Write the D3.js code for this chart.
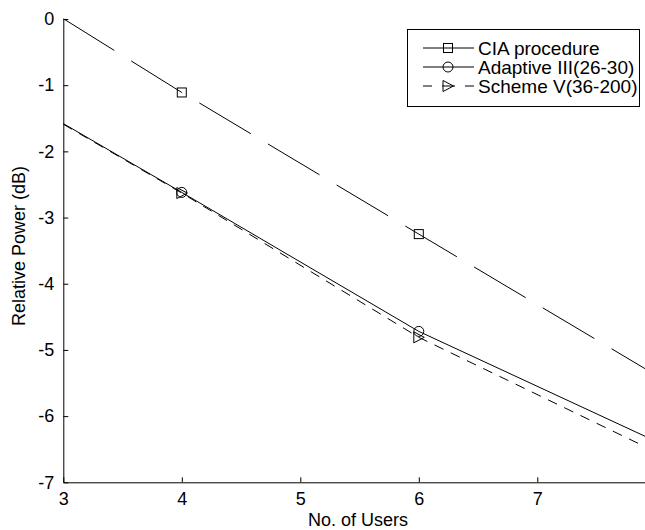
<!DOCTYPE html>
<html>
<head>
<meta charset="utf-8">
<script src="https://cdn.jsdelivr.net/npm/d3@7/dist/d3.min.js"></script>
<style>
  html, body { margin: 0; padding: 0; background: #fff; }
  svg { display: block; }
  text { font-family: "Liberation Sans", Arial, Helvetica, sans-serif; fill: #000; }
</style>
</head>
<body>
<svg id="chart" width="645" height="530"></svg>
<script>
// Number of users at which each curve was evaluated
const users = [2, 4, 6, 8];
// Relative transmit power (dB) for each scheme
const ciaPower      = [1.12, -1.11, -3.25, -5.38];
const adaptivePower = [-0.54, -2.62, -4.72, -6.38];
const schemePower   = [-0.55, -2.63, -4.81, -6.54];
// Axis ticks
const xTicks = [3, 4, 5, 6, 7];
const yTicks = [0, -1, -2, -3, -4, -5, -6, -7];

const legendLabels = ["CIA procedure", "Adaptive III(26-30)", "Scheme V(36-200)"];

const svg = d3.select("#chart");
const plotLeft = 63.3, plotTop = 19, plotBottom = 482.3;
const unitX = 118.5;

const x = d3.scaleLinear().domain([3, 8]).range([plotLeft, plotLeft + 5 * unitX]);
const y = d3.scaleLinear().domain([-7, 0]).range([plotBottom, plotTop]);

// plot region clip
svg.append("defs").append("clipPath").attr("id", "plotClip")
  .append("rect")
  .attr("x", x(3)).attr("y", y(0) - 10)
  .attr("width", x(8) - x(3) + 10).attr("height", y(-7) - y(0) + 10);

const series = [
  { name: legendLabels[0], values: ciaPower, dash: "60,20", marker: "square" },
  { name: legendLabels[1], values: adaptivePower, dash: null, marker: "circle" },
  { name: legendLabels[2], values: schemePower, dash: "10,8", marker: "triangle" }
];

const line = d3.line().x(d => x(d[0])).y(d => y(d[1]));

function drawMarker(g, type, cx, cy) {
  if (type === "square") {
    g.append("rect").attr("x", cx - 4.5).attr("y", cy - 4.5)
      .attr("width", 9).attr("height", 9)
      .attr("fill", "none").attr("stroke", "#000").attr("stroke-width", 1);
  } else if (type === "circle") {
    g.append("circle").attr("cx", cx).attr("cy", cy).attr("r", 5)
      .attr("fill", "none").attr("stroke", "#000").attr("stroke-width", 1);
  } else {
    g.append("path")
      .attr("d", `M${cx + 5.5},${cy} L${cx - 5},${cy - 5.5} L${cx - 5},${cy + 5.5} Z`)
      .attr("fill", "none").attr("stroke", "#000").attr("stroke-width", 1);
  }
}

const plot = svg.append("g").attr("clip-path", "url(#plotClip)");

series.forEach(s => {
  const pts = users.map((u, i) => [u, s.values[i]]);
  const path = plot.append("path")
    .datum(pts)
    .attr("d", line)
    .attr("fill", "none")
    .attr("stroke", "#000")
    .attr("stroke-width", 1);
  if (s.dash) {
    // start the dash pattern where the curve enters the axes at x = 3
    const x0 = x(pts[0][0]), y0 = y(pts[0][1]);
    const t = (3 - pts[0][0]) / (pts[1][0] - pts[0][0]);
    const v3 = pts[0][1] + t * (pts[1][1] - pts[0][1]);
    const hidden = Math.hypot(x(3) - x0, y(v3) - y0);
    const period = s.dash.split(",").map(Number).reduce((a, b) => a + b, 0);
    path.attr("stroke-dasharray", s.dash)
      .attr("stroke-dashoffset", period - (hidden % period));
  }
  const mg = plot.append("g");
  pts.forEach(p => drawMarker(mg, s.marker, x(p[0]), y(p[1])));
});

// axes (plain hyphen for negative numbers)
const fmt = d => String(d);
const xAxis = d3.axisBottom(x).tickValues(xTicks).tickSizeInner(-5).tickSizeOuter(0)
  .tickPadding(10).tickFormat(fmt);
const gx = svg.append("g").attr("transform", `translate(0,${plotBottom})`).call(xAxis);
gx.selectAll("text").attr("font-size", 18);

const yAxis = d3.axisLeft(y).tickValues(yTicks).tickSizeInner(-5).tickSizeOuter(0)
  .tickPadding(9).tickFormat(fmt);
const gy = svg.append("g").attr("transform", `translate(${plotLeft},0)`).call(yAxis);
gy.selectAll("text").attr("font-size", 18);

[gx, gy].forEach(g => {
  g.select(".domain").attr("stroke", "#000").attr("stroke-width", 1);
  g.selectAll(".tick line").attr("stroke", "#000");
  g.attr("font-family", null);
});

// axis titles
svg.append("text")
  .attr("x", 358).attr("y", 526)
  .attr("text-anchor", "middle").attr("font-size", 18)
  .text("No. of Users");
svg.append("text")
  .attr("transform", `translate(25,246) rotate(-90)`)
  .attr("text-anchor", "middle").attr("font-size", 18)
  .text("Relative Power (dB)");

// legend
const lg = svg.append("g");
lg.append("rect").attr("x", 407.5).attr("y", 29.5).attr("width", 232).attr("height", 77)
  .attr("fill", "#fff").attr("stroke", "#000").attr("stroke-width", 1);
series.forEach((s, i) => {
  const cy = 48 + i * 19;
  if (i === 2) {
    lg.append("line").attr("x1", 423).attr("x2", 432)
      .attr("y1", cy).attr("y2", cy).attr("stroke", "#000");
    lg.append("line").attr("x1", 442).attr("x2", 455)
      .attr("y1", cy).attr("y2", cy).attr("stroke", "#000");
    lg.append("line").attr("x1", 465).attr("x2", 474)
      .attr("y1", cy).attr("y2", cy).attr("stroke", "#000");
  } else {
    lg.append("line").attr("x1", 423).attr("x2", 474)
      .attr("y1", cy).attr("y2", cy).attr("stroke", "#000").attr("stroke-width", 1);
  }
  drawMarker(lg, s.marker, 448, cy);
  lg.append("text").attr("x", 478).attr("y", cy).attr("dy", "0.35em")
    .attr("font-size", 19).text(s.name);
});
</script>
</body>
</html>
